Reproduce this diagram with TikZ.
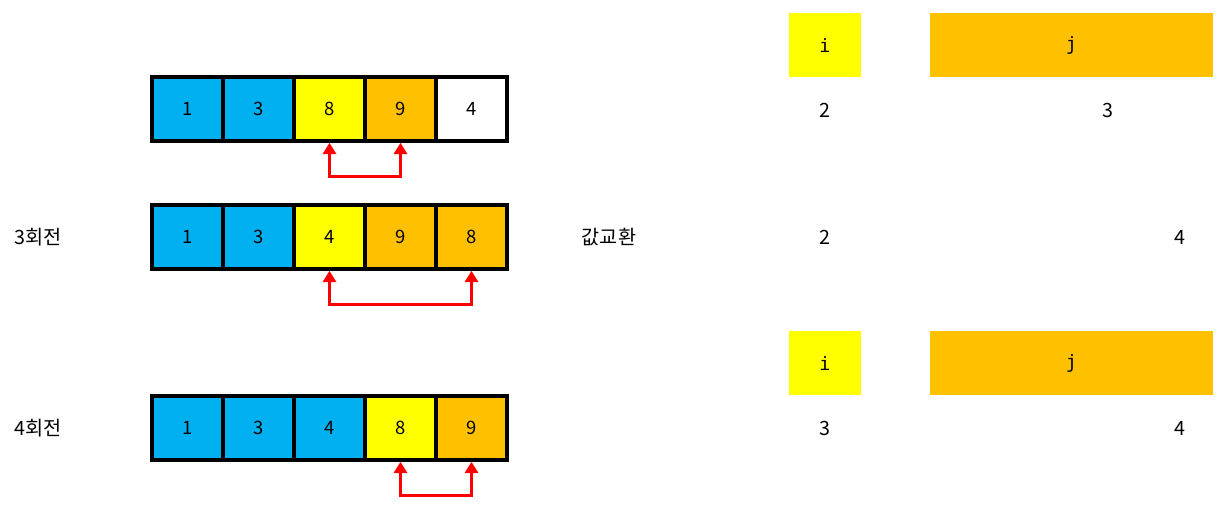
\documentclass[tikz,border=0pt]{standalone}
\usepackage{fontspec}
\newfontfamily\kor{Noto Sans CJK KR}
\setmonofont{DejaVu Sans Mono}
\usetikzlibrary{arrows.meta,positioning}
\definecolor{cellblue}{HTML}{00B0F0}
\definecolor{cellyellow}{HTML}{FFFF00}
\definecolor{cellorange}{HTML}{FFC000}
\tikzset{
cell/.style = {draw, line width=2pt, rectangle, minimum width=1.42cm, minimum height=1.28cm, font=\kor\fontsize{10.5}{12}\selectfont},
label/.style = {font=\kor\fontsize{11.2}{13}\selectfont},
idx/.style = {rectangle, minimum height=1.28cm, font=\ttfamily\fontsize{10.5}{12}\selectfont},
swap/.style = {red, line width=1.8pt, {Triangle[width=7.5pt,length=6.5pt]}-{Triangle[width=7.5pt,length=6.5pt]}}
}

\begin{document}
\begin{tikzpicture}[x=0.02cm, y=-0.02cm]
  \useasboundingbox (0,0) rectangle (1227,508);

  % arrays
  \foreach \v/\c [count=\k] in {1/cellblue,3/cellblue,8/cellyellow,9/cellorange,4/white}
    \node [cell, fill=\c] (a\k) at ({187.5+71*(\k-1)},109) {\v};
  \foreach \v/\c [count=\k] in {1/cellblue,3/cellblue,4/cellyellow,9/cellorange,8/cellorange}
    \node [cell, fill=\c] (b\k) at ({187.5+71*(\k-1)},237) {\v};
  \foreach \v/\c [count=\k] in {1/cellblue,3/cellblue,4/cellblue,8/cellyellow,9/cellorange}
    \node [cell, fill=\c] (c\k) at ({187.5+71*(\k-1)},428) {\v};

  % swap arrows
  \draw [swap] (a3.south) -- ++(0,34) -| (a4.south);
  \draw [swap] (b3.south) -- ++(0,34) -| (b5.south);
  \draw [swap] (c4.south) -- ++(0,34) -| (c5.south);

  % labels
  \node [label] (round3) at (38,237) {3회전};
  \node [label] (round4) at (38,428) {4회전};
  \node [label] (swaptxt) at (609,237) {값교환};

  % index boxes
  \node [idx, fill=cellyellow, minimum width=1.44cm] (i1) at (825,45) {i};
  \node [idx, fill=cellorange, minimum width=5.66cm] (j1) at (1071.5,45) {j};
  \node [idx, fill=cellyellow, minimum width=1.44cm] (i2) at (825,363) {i};
  \node [idx, fill=cellorange, minimum width=5.66cm] (j2) at (1071.5,363) {j};

  % index values
  \node [label] (iv1) at (825,110) {2};
  \node [label] (jv1) at (1108,110) {3};
  \node [label] (iv2) at (825,237) {2};
  \node [label] (jv2) at (1180,237) {4};
  \node [label] (iv3) at (825,428) {3};
  \node [label] (jv3) at (1180,428) {4};
\end{tikzpicture}
\end{document}
